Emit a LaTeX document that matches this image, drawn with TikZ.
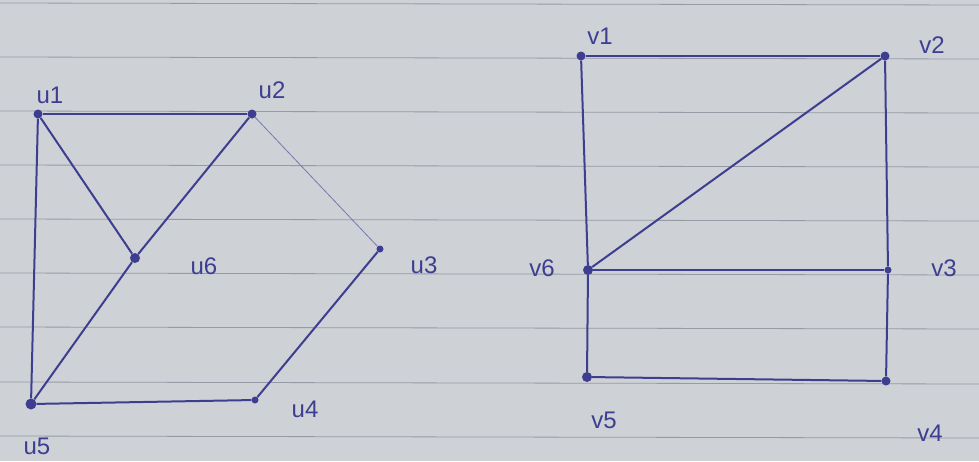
\documentclass[tikz,border=0pt]{standalone}
\usepackage{fontspec}
\setmainfont{Liberation Sans}
\definecolor{paper}{RGB}{206,209,214}
\definecolor{rule}{RGB}{150,154,164}
\definecolor{ink}{RGB}{62,62,145}
\begin{document}
\begin{tikzpicture}[x=1pt,y=-1pt,
  dot/.style={circle,fill=ink,inner sep=0pt,minimum size=#1},
  dot/.default=9pt,
  lbl/.style={text=ink,font=\fontsize{24}{26}\selectfont,inner sep=0pt},
  edge/.style={draw=ink,line width=2pt},
  thin edge/.style={draw=ink!70,line width=0.8pt}]
\fill[paper] (0,0) rectangle (979,461);
\useasboundingbox (0,0) rectangle (979,461);
\foreach \y in {3,57,111,165,219,273,327,382,436}
  \draw[rule,line width=0.8pt] (0,\y) -- (979,\y+2);
% left graph
\node[dot] (u1) at (38,114) {};
\node[dot] (u2) at (252,114) {};
\node[dot=7pt] (u3) at (380,249) {};
\node[dot=10pt] (u6) at (135,258) {};
\node[dot=7pt] (u4) at (255,400) {};
\node[dot=11pt] (u5) at (31,404) {};
\draw[edge] (u1) -- (u2);
\draw[edge] (u1) -- (u5);
\draw[edge] (u1) -- (u6);
\draw[edge] (u2) -- (u6);
\draw[edge] (u6) -- (u5);
\draw[thin edge] (u2) -- (u3);
\draw[edge] (u3) -- (u4);
\draw[edge] (u4) -- (u5);
\node[lbl] (lu1) at (50,95) {u1};
\node[lbl] (lu2) at (272,90) {u2};
\node[lbl] (lu6) at (204,266) {u6};
\node[lbl] (lu3) at (424,265) {u3};
\node[lbl] (lu4) at (305,409) {u4};
\node[lbl] (lu5) at (37,446) {u5};
% right graph
\node[dot] (v1) at (581,56) {};
\node[dot] (v2) at (885,56) {};
\node[dot=7pt] (v3) at (888,270) {};
\node[dot=10pt] (v6) at (588,270) {};
\node[dot=10pt] (v5) at (587,377) {};
\node[dot] (v4) at (886,381) {};
\draw[edge] (v1) -- (v2);
\draw[edge] (v1) -- (v6);
\draw[edge] (v2) -- (v6);
\draw[edge] (v2) -- (v3);
\draw[edge] (v6) -- (v3);
\draw[edge] (v3) -- (v4);
\draw[edge] (v6) -- (v5);
\draw[edge] (v5) -- (v4);
\node[lbl] (lv1) at (600,36) {v1};
\node[lbl] (lv2) at (932,45) {v2};
\node[lbl] (lv6) at (542,268) {v6};
\node[lbl] (lv3) at (944,268) {v3};
\node[lbl] (lv5) at (604,420) {v5};
\node[lbl] (lv4) at (930,433) {v4};
\end{tikzpicture}
\end{document}
